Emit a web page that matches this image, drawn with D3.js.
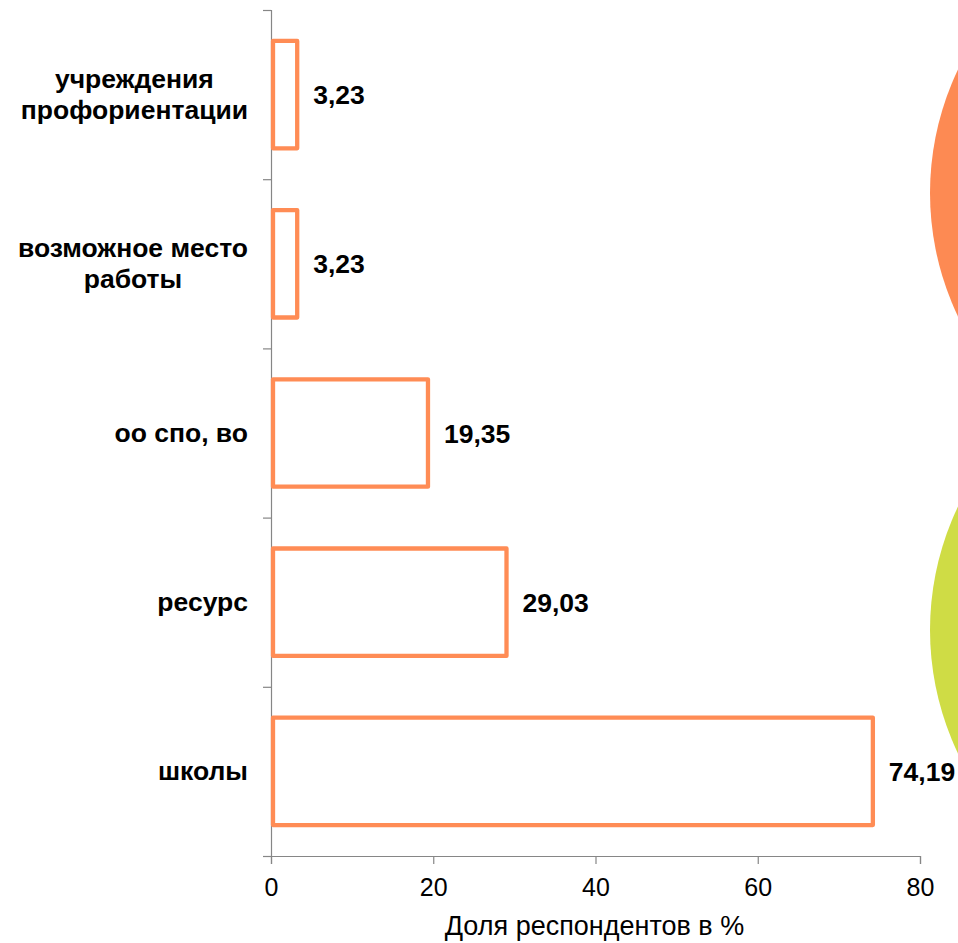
<!DOCTYPE html>
<html>
<head>
<meta charset="utf-8">
<script src="https://cdn.jsdelivr.net/npm/d3@7"></script>
<style>
  html, body { margin: 0; padding: 0; background: #ffffff; }
  svg { display: block; }
</style>
</head>
<body>
<svg id="chart" width="958" height="943"></svg>
<script>
// ---- data ----
const categories = ["учреждения\nпрофориентации", "возможное место\nработы", "оо спо, во", "ресурс", "школы"];
const values = [3.23, 3.23, 19.35, 29.03, 74.19];
const xTicks = [0, 20, 40, 60, 80];
const xTitle = "Доля респондентов в %";

// ---- layout ----
const plotLeft = 271, plotRight = 920, plotTop = 10, plotBottom = 856;
const svg = d3.select("#chart");
const FONT = "'Liberation Sans', Arial, sans-serif";

// decorative shapes on the right
svg.append("circle").attr("cx", 930 + 286).attr("cy", 193).attr("r", 286).attr("fill", "#FD8A53");
svg.append("circle").attr("cx", 930 + 286).attr("cy", 630).attr("r", 286).attr("fill", "#CFDC45");

const x = d3.scaleLinear().domain([0, 80]).range([plotLeft, plotRight]);
const y = d3.scaleBand().domain(categories).range([plotTop, plotBottom]).paddingInner(0.365).paddingOuter(0.1825);
const yIdx = d3.scaleLinear().domain([0, categories.length]).range([plotTop, plotBottom]);

const axisColor = "#868686";

// y axis (ticks at category boundaries)
const gy = svg.append("g").attr("transform", `translate(${plotLeft},0)`)
  .call(d3.axisLeft(yIdx).ticks(categories.length).tickSize(8).tickFormat(""));
gy.select(".domain").attr("stroke", axisColor).attr("stroke-width", 1.2);
gy.selectAll(".tick line").attr("stroke", axisColor).attr("stroke-width", 1.2);

// x axis
const gx = svg.append("g").attr("transform", `translate(0,${plotBottom})`)
  .call(d3.axisBottom(x).tickValues(xTicks).tickSize(8).tickSizeOuter(8).tickPadding(14));
gx.select(".domain").attr("stroke", axisColor).attr("stroke-width", 1.2);
gx.selectAll(".tick line").attr("stroke", axisColor).attr("stroke-width", 1.2);
gx.selectAll(".tick text")
  .attr("font-family", FONT)
  .attr("font-size", 25).attr("fill", "#000");

// x axis title
svg.append("text").attr("x", (447 + 742) / 2).attr("y", 935)
  .attr("text-anchor", "middle")
  .attr("font-family", FONT)
  .attr("font-size", 27).attr("fill", "#000").text(xTitle);

// bars
svg.append("g").selectAll("rect").data(categories).join("rect")
  .attr("x", x(0) + 2)
  .attr("y", d => y(d))
  .attr("width", (d, i) => x(values[i]) - x(0) - 2)
  .attr("height", y.bandwidth())
  .attr("fill", "#ffffff")
  .attr("stroke", "#FF8C55")
  .attr("stroke-width", 4.3)
  .attr("stroke-linejoin", "round");

// value labels
const fmt = v => d3.format(".2f")(v).replace(".", ",");
svg.append("g").selectAll("text").data(categories).join("text")
  .attr("x", (d, i) => x(values[i]) + 16)
  .attr("y", d => y(d) + y.bandwidth() / 2)
  .attr("dy", "0.36em")
  .attr("font-family", FONT)
  .attr("font-weight", "bold")
  .attr("font-size", 26.5)
  .attr("fill", "#000")
  .text((d, i) => fmt(values[i]));

// category labels (block right-aligned, lines centered)
const labelRight = 248, lineH = 31;
categories.forEach(c => {
  const lines = c.split("\n");
  const cy = y(c) + y.bandwidth() / 2 - 1;
  const t = svg.append("text")
    .attr("font-family", FONT)
    .attr("font-weight", "bold")
    .attr("font-size", 26.5)
    .attr("fill", "#000")
    .attr("text-anchor", "middle");
  const spans = lines.map((l, k) => t.append("tspan")
    .attr("y", cy + (k - (lines.length - 1) / 2) * lineH)
    .attr("dy", "0.36em")
    .text(l));
  const maxW = d3.max(spans, s => s.node().getComputedTextLength());
  spans.forEach(s => s.attr("x", labelRight - maxW / 2));
});
</script>
</body>
</html>
